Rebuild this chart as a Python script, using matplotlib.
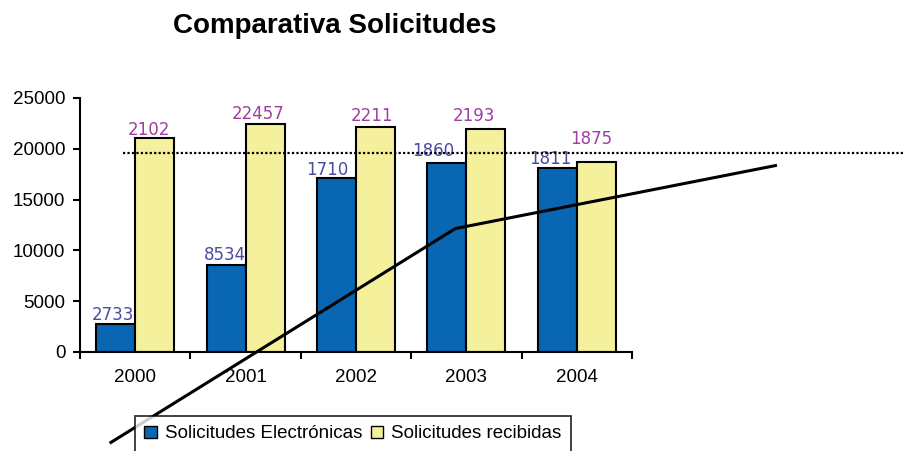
import matplotlib
matplotlib.use("Agg")
import matplotlib.pyplot as plt
import numpy as np
from matplotlib.patches import Patch

years = ["2000", "2001", "2002", "2003", "2004"]
electronicas = [2733, 8534, 17100, 18600, 18110]
recibidas = [21020, 22457, 22110, 21930, 18750]
labels_electronicas = ["2733", "8534", "1710", "1860", "1811"]
labels_recibidas = ["2102", "22457", "2211", "2193", "1875"]
reference_level = 19540
trend_x = [-0.22, 2.9, 5.8]
trend_y = [-8900, 12150, 18350]

# label placement tweaks (pixels)
off_e = [(-2.5, 4), (-1.5, 5), (-9, 3), (-13.5, 7.5), (-7, 4)]
off_r = [(-5.5, 3), (-7, 5), (-3, 6.5), (-12, 8), (-5, 18)]

plt.rcParams['font.family'] = ['Liberation Sans', 'DejaVu Sans']

fig = plt.figure(figsize=(9.05, 4.51), dpi=100)
ax = fig.add_axes([80/905, 1-352/451, (632-80)/905, (352-98)/451])

x = np.arange(len(years))
w = 0.353
blue = "#0866b2"
yellow = "#f5f09c"
ax.bar(x - w/2, electronicas, w, color=blue, edgecolor="black", linewidth=1.5, zorder=2)
ax.bar(x + w/2, recibidas, w, color=yellow, edgecolor="black", linewidth=1.5, zorder=2)

px = 0.72
for xi, v, lab, (dx, dy) in zip(x, electronicas, labels_electronicas, off_e):
    ax.annotate(lab, (xi - w/2, v), xytext=(dx*px, dy*px), textcoords="offset points",
                ha="center", va="baseline", fontsize=12, color="#4b4b9c",
                family="DejaVu Sans", zorder=3)
for xi, v, lab, (dx, dy) in zip(x, recibidas, labels_recibidas, off_r):
    ax.annotate(lab, (xi + w/2, v), xytext=(dx*px, dy*px), textcoords="offset points",
                ha="center", va="baseline", fontsize=12, color="#9c3f9e",
                family="DejaVu Sans", zorder=3)

ax.plot([-0.11, 6.97], [reference_level, reference_level], color="black",
        linestyle=(0, (1, 1)), linewidth=1.6, clip_on=False, zorder=4)
ax.plot(trend_x, trend_y, color="black", linewidth=2.2, clip_on=False, zorder=5)

ax.set_xlim(-0.5, 4.5)
ax.set_ylim(0, 25000)
ax.set_yticks([0, 5000, 10000, 15000, 20000, 25000])
ax.set_xticks(x)
ax.set_xticklabels(years)
ax.set_xticks(np.arange(-0.5, 5, 1), minor=True)
ax.tick_params(axis="x", which="major", length=0, pad=12.5, labelsize=13.5)
ax.tick_params(axis="x", which="minor", length=5, width=1.5, direction="out")
ax.tick_params(axis="y", length=5, width=1.5, pad=5.5, labelsize=13.5)
for s in ["top", "right"]:
    ax.spines[s].set_visible(False)
for s in ["left", "bottom"]:
    ax.spines[s].set_linewidth(1.5)

fig.text(335/905, 1-33/451, "Comparativa Solicitudes", ha="center", va="baseline",
         fontsize=20, fontweight="bold")

handles = [Patch(facecolor=blue, edgecolor="black", label="Solicitudes Electrónicas"),
           Patch(facecolor=yellow, edgecolor="black", label="Solicitudes recibidas")]
leg = fig.legend(handles=handles, loc="upper left", bbox_to_anchor=(135/905, 1-416/451),
                 ncol=2, fontsize=13.5, frameon=True, fancybox=False, borderpad=0.5,
                 handlelength=0.65, handleheight=0.65, handletextpad=0.45, columnspacing=0.45,
                 borderaxespad=0)
leg.get_frame().set_edgecolor("black")
leg.get_frame().set_linewidth(1.3)

fig.savefig("out.png", dpi=100)
